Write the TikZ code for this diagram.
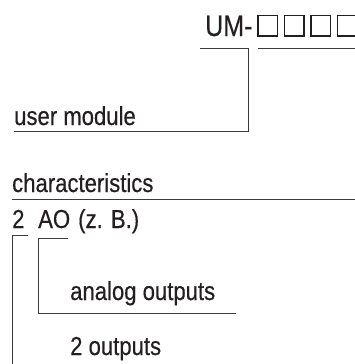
\documentclass[tikz,border=0pt]{standalone}
\usepackage{fontspec}
\setmainfont{Liberation Sans}[FakeStretch=0.85, FakeBold=0.4]
\definecolor{ink}{HTML}{231F20}
\definecolor{rule}{HTML}{3A3A3A}
\tikzset{
  label/.style={inner sep=0pt, anchor=base west, text=ink, font=\fontsize{26}{30}\selectfont},
  title/.style={label, font=\fontsize{29.5}{34}\selectfont},
  bracket/.style={draw=rule, line width=1pt},
  slot/.style={draw=ink, line width=1.3pt}
}
\begin{document}
\begin{tikzpicture}[x=1pt, y=-1pt]
    \useasboundingbox (0,0) rectangle (355,364);

    \node (um) at (205, 36) [title] {UM-};
    \foreach \i in {0,...,3}
        \draw[slot] (258+\i*26.5, 15.5) rectangle ++(19.5, 20.5);

    \node (user) at (14, 125) [label] {user module};
    \node (char) at (12, 192) [label] {characteristics};
    \node (two) at (12, 228) [label] {2};
    \node (ao) at (38, 228) [label] {AO};
    \node (zb) at (78, 228) [label] {(z. B.)};
    \node (analog) at (70, 300) [label] {analog outputs};
    \node (outs) at (70, 355) [label] {2 outputs};

    \coordinate (um-a) at (200, 48);
    \coordinate (um-b) at (248, 48);
    \coordinate (um-c) at (248, 131);
    \coordinate (user-a) at (14, 131);
    \coordinate (slot-a) at (258, 48);
    \coordinate (slot-b) at (355, 48);
    \coordinate (char-a) at (12, 199);
    \coordinate (char-b) at (355, 199);
    \coordinate (two-a) at (28, 235);
    \coordinate (two-b) at (12, 235);
    \coordinate (two-c) at (12, 364);
    \coordinate (ao-a) at (68, 238.5);
    \coordinate (ao-b) at (38, 238.5);
    \coordinate (ao-c) at (38, 313);
    \coordinate (analog-a) at (236, 313);

    \draw[bracket] (um-a) -- (um-b) -- (um-c) -- (user-a);
    \draw[bracket] (slot-a) -- (slot-b);
    \draw[bracket] (char-a) -- (char-b);
    \draw[bracket] (two-a) -- (two-b) -- (two-c);
    \draw[bracket] (ao-a) -- (ao-b) -- (ao-c) -- (analog-a);

\end{tikzpicture}
\end{document}
